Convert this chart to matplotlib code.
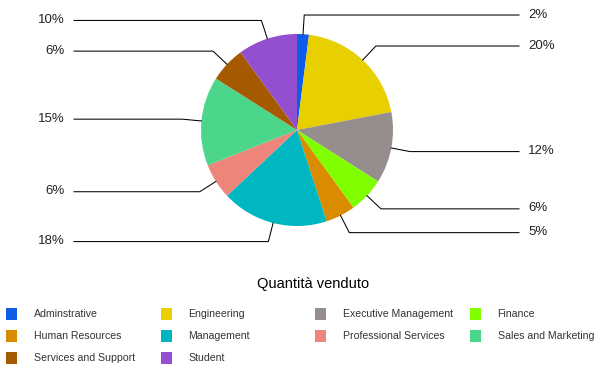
import numpy as np
import matplotlib
matplotlib.use("Agg")
import matplotlib.pyplot as plt
from matplotlib.patches import Rectangle

plt.rcParams['font.family'] = ['Liberation Sans', 'DejaVu Sans']

# dati
categorie = ["Adminstrative", "Engineering", "Executive Management", "Finance",
             "Human Resources", "Management", "Professional Services",
             "Sales and Marketing", "Services and Support", "Student"]
valori = [2, 20, 12, 6, 5, 18, 6, 15, 6, 10]
colori = ["#0f5ce8", "#e8cf00", "#968d8d", "#80ff00", "#d98c00",
          "#00b6c0", "#ee857b", "#4cd68c", "#a65a00", "#944ed0"]
titolo_legenda = "Quantità venduto"

W, H = 603, 374
cx, cy, r = 297, 130, 96  # centro e raggio in pixel

fig = plt.figure(figsize=(W / 100, H / 100), dpi=100)

# assi della torta in unita' del raggio
ax = fig.add_axes([0, 0, 1, 1])
wedges, _ = ax.pie(valori, colors=colori, startangle=90, counterclock=False,
                   radius=1, center=(0, 0))
ax.set_xlim(-cx / r, (W - cx) / r)
ax.set_ylim(-(H - cy) / r, cy / r)
ax.set_aspect("auto")
ax.axis("off")

tot = sum(valori)
x_dx, x_sx = (519 - cx) / r, (74 - cx) / r
for w, v in zip(wedges, valori):
    ang = np.deg2rad((w.theta1 + w.theta2) / 2)
    x0, y0 = np.cos(ang), np.sin(ang)
    x1, y1 = 1.2 * x0, 1.2 * y0
    pct = "%d%%" % round(100 * v / tot)
    if x0 >= 0:
        ax.plot([x0, x1, x_dx], [y0, y1, y1], color="black", lw=0.75)
        ax.text(x_dx + 9 / r, y1 + 0.5 / r, pct, ha="left", va="center",
                fontsize=9.5, color="#222222")
    else:
        ax.plot([x0, x1, x_sx], [y0, y1, y1], color="black", lw=0.75)
        ax.text(x_sx - 9 / r, y1 + 0.5 / r, pct, ha="right", va="center",
                fontsize=9.5, color="#222222")

# legenda disegnata in pixel
lg = fig.add_axes([0, 0, 1, 1])
lg.set_xlim(0, W)
lg.set_ylim(H, 0)
lg.axis("off")
lg.patch.set_alpha(0)
lg.text(313, 284, titolo_legenda, ha="center", va="center", fontsize=10.5)
for i, (nome, col) in enumerate(zip(categorie, colori)):
    riga, colonna = divmod(i, 4)
    x = 6 + colonna * 154.5
    y = 314 + riga * 22
    lg.add_patch(Rectangle((x, y - 6), 11, 12, color=col, lw=0))
    lg.text(x + 28, y, nome, ha="left", va="center", fontsize=7.6, color="#333333")

fig.savefig("out.png", dpi=100)
